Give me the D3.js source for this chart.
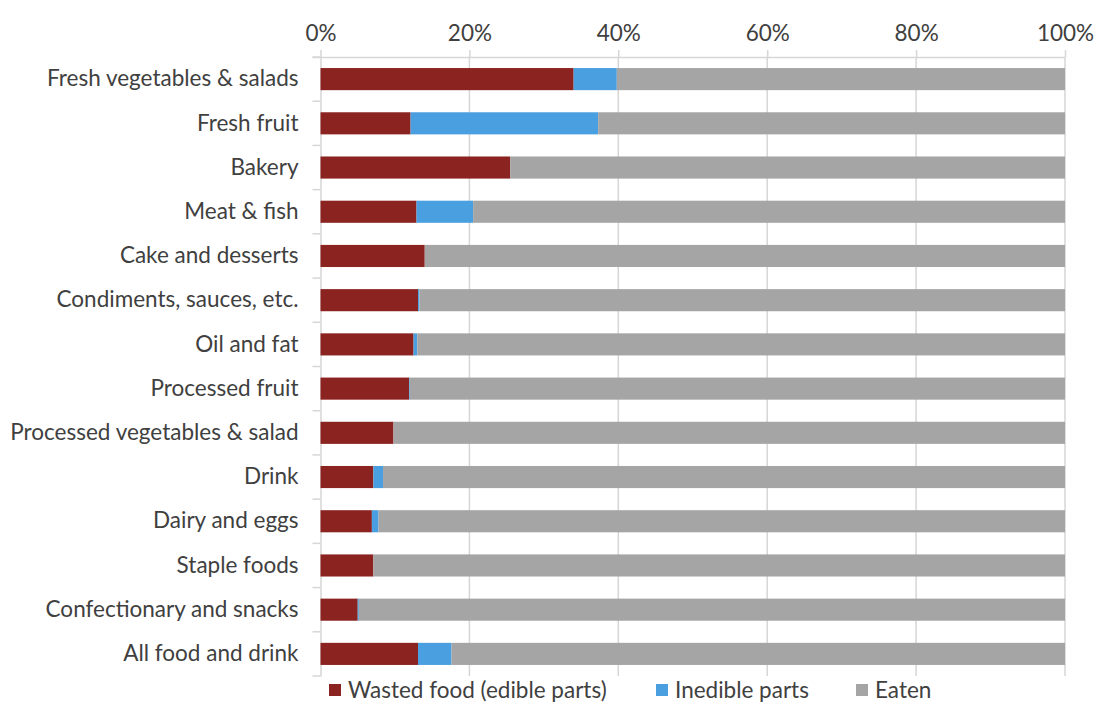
<!DOCTYPE html>
<html>
<head>
<meta charset="utf-8">
<script src="https://cdn.jsdelivr.net/npm/d3@7"></script>
<style>
  html, body { margin: 0; padding: 0; background: #fff; }
  svg text { font-family: Lato, "Open Sans", sans-serif; fill: #404040; }
</style>
</head>
<body>
<svg id="chart" width="1095" height="703"></svg>
<script>
// Food categories, top to bottom
const categories = [
  "Fresh vegetables & salads",
  "Fresh fruit",
  "Bakery",
  "Meat & fish",
  "Cake and desserts",
  "Condiments, sauces, etc.",
  "Oil and fat",
  "Processed fruit",
  "Processed vegetables & salad",
  "Drink",
  "Dairy and eggs",
  "Staple foods",
  "Confectionary and snacks",
  "All food and drink"
];

// Share of each category (percent)
const wastedEdible = [34.0, 12.1, 25.5, 12.9, 14.0, 13.1, 12.5, 11.9, 9.8, 7.1, 6.9, 7.1, 5.0, 13.1];
const inedibleParts = [5.8, 25.2, 0.0, 7.6, 0.0, 0.2, 0.5, 0.1, 0.0, 1.3, 0.9, 0.0, 0.15, 4.5];
const eaten = wastedEdible.map((w, i) => +(100 - w - inedibleParts[i]).toFixed(2));

const seriesNames = ["Wasted food (edible parts)", "Inedible parts", "Eaten"];
const seriesColors = ["#8B2320", "#4A9FE0", "#A5A5A5"];
const tickValues = [0, 20, 40, 60, 80, 100];

const rows = categories.map((c, i) => ({
  category: c,
  "Wasted food (edible parts)": wastedEdible[i],
  "Inedible parts": inedibleParts[i],
  "Eaten": eaten[i]
}));

const svg = d3.select("#chart");
const plotLeft = 320.5, plotRight = 1065, plotTop = 57, plotBottom = 676;
const fontSize = "22.5px";

const x = d3.scaleLinear().domain([0, 100]).range([plotLeft, plotRight]);
const y = d3.scaleBand().domain(categories).range([plotTop, plotBottom])
  .paddingInner(0.5).paddingOuter(0.25);
const color = d3.scaleOrdinal().domain(seriesNames).range(seriesColors);

// Vertical gridlines
svg.append("g")
  .selectAll("line")
  .data(tickValues.slice(1))
  .join("line")
  .attr("x1", d => x(d)).attr("x2", d => x(d))
  .attr("y1", plotTop).attr("y2", plotBottom)
  .attr("stroke", "#D6D6D6").attr("stroke-width", 1.5);

// Top percentage axis
const xAxis = svg.append("g")
  .attr("transform", `translate(0,${plotTop})`)
  .call(d3.axisTop(x).tickValues(tickValues).tickFormat(d => d + "%").tickSize(7).tickSizeOuter(0).tickPadding(9));
xAxis.select(".domain").attr("stroke", "#D6D6D6").attr("stroke-width", 1.5)
  .attr("d", `M${plotLeft - 8},0.5H${plotRight}`);
xAxis.selectAll(".tick line").attr("stroke", "#D6D6D6").attr("stroke-width", 1.5);
xAxis.selectAll(".tick text").style("font-size", fontSize).attr("fill", "#404040");

// Left category axis
const yAxis = svg.append("g")
  .attr("transform", `translate(${plotLeft},0)`)
  .call(d3.axisLeft(y).tickSize(0).tickPadding(22));
yAxis.select(".domain").attr("stroke", "#D6D6D6").attr("stroke-width", 1.5);
yAxis.selectAll(".tick text").style("font-size", fontSize).attr("fill", "#404040");

// Small ticks between categories
const boundaries = d3.range(categories.length + 1).map(i => plotTop + i * y.step());
svg.append("g").selectAll("line").data(boundaries).join("line")
  .attr("x1", plotLeft - 8).attr("x2", plotLeft)
  .attr("y1", d => d).attr("y2", d => d)
  .attr("stroke", "#D6D6D6").attr("stroke-width", 1.5);

// Stacked bars
const stack = d3.stack().keys(seriesNames)(rows);
svg.append("g")
  .selectAll("g")
  .data(stack)
  .join("g")
  .attr("fill", d => color(d.key))
  .selectAll("rect")
  .data(d => d)
  .join("rect")
  .attr("x", d => x(d[0]))
  .attr("y", d => y(d.data.category))
  .attr("width", d => Math.max(0, x(d[1]) - x(d[0])))
  .attr("height", y.bandwidth());

// Legend
const legendX = [329, 656, 856];
const legend = svg.append("g").selectAll("g").data(seriesNames).join("g")
  .attr("transform", (d, i) => `translate(${legendX[i]},690)`);
legend.append("rect").attr("x", 0).attr("y", -6).attr("width", 12).attr("height", 12)
  .attr("fill", d => color(d));
legend.append("text").attr("x", 19).attr("dy", "0.35em")
  .style("font-size", fontSize).text(d => d);
</script>
</body>
</html>
